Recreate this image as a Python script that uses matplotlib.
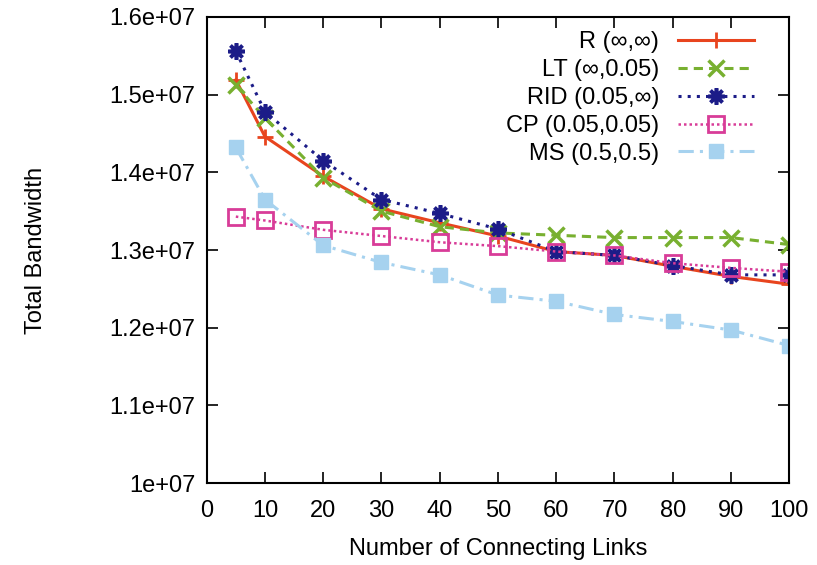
import numpy as np
import matplotlib.pyplot as plt

plt.rcParams['font.family'] = ['Liberation Sans', 'DejaVu Sans']

links = [5, 10, 20, 30, 40, 50, 60, 70, 80, 90, 100]

r_vals = [1.519e7, 1.446e7, 1.395e7, 1.353e7, 1.335e7, 1.318e7, 1.298e7, 1.293e7, 1.279e7, 1.266e7, 1.256e7]
lt_vals = [1.512e7, 1.470e7, 1.393e7, 1.350e7, 1.330e7, 1.322e7, 1.319e7, 1.316e7, 1.316e7, 1.316e7, 1.307e7]
rid_vals = [1.556e7, 1.478e7, 1.415e7, 1.365e7, 1.347e7, 1.327e7, 1.298e7, 1.293e7, 1.280e7, 1.268e7, 1.268e7]
cp_vals = [1.343e7, 1.338e7, 1.326e7, 1.318e7, 1.310e7, 1.305e7, 1.298e7, 1.293e7, 1.283e7, 1.277e7, 1.272e7]
ms_vals = [1.432e7, 1.365e7, 1.306e7, 1.284e7, 1.268e7, 1.242e7, 1.234e7, 1.217e7, 1.208e7, 1.197e7, 1.177e7]

labels = ['R (\u221e,\u221e)', 'LT (\u221e,0.05)', 'RID (0.05,\u221e)', 'CP (0.05,0.05)', 'MS (0.5,0.5)']

fig = plt.figure(figsize=(8.17, 5.65), dpi=100)
ax = fig.add_axes([0.253, 0.145, 0.713, 0.825])

ax.plot(links, r_vals, color='#e8441e', lw=2.2, ls='-', marker='+', ms=12, mew=2, label=labels[0])
ax.plot(links, lt_vals, color='#78b030', lw=2.2, ls=(0, (3, 2)), marker='x', ms=11, mew=2.5, label=labels[1])
ax.plot(links, rid_vals, color='#1c1c88', lw=2.2, ls=(0, (1, 2)), marker=(8, 2, 0), ms=12, mew=2.6, label=labels[2])
ax.plot(links, cp_vals, color='#d83c98', lw=1.8, ls=(0, (1, 1.2)), marker='s', ms=11, mew=2, mfc='none', label=labels[3])
ax.plot(links, ms_vals, color='#a6d2ef', lw=2.2, ls=(0, (5, 2, 1, 2)), marker='s', ms=10, label=labels[4])

ax.set_xlim(0, 100)
ax.set_ylim(1.0e7, 1.6e7)
ax.set_xticks(np.arange(0, 101, 10))
ax.set_yticks(np.arange(1.0e7, 1.61e7, 0.1e7))
ax.set_yticklabels(['1e+07', '1.1e+07', '1.2e+07', '1.3e+07', '1.4e+07', '1.5e+07', '1.6e+07'])
ax.tick_params(direction='in', top=True, right=True, length=8, width=1.2, labelsize=17, pad=8)
ax.tick_params(axis='x', pad=12)
for s in ax.spines.values():
    s.set_linewidth(1.5)

ax.set_xlabel('Number of Connecting Links', fontsize=17, labelpad=12)
ax.set_ylabel('Total Bandwidth', fontsize=17, labelpad=45)

ax.legend(loc='upper right', bbox_to_anchor=(0.955, 0.99), frameon=False, markerfirst=False,
          fontsize=17, handlelength=3.2, labelspacing=0.25, borderaxespad=0, handletextpad=0.8)

fig.savefig('out.png', dpi=100)
